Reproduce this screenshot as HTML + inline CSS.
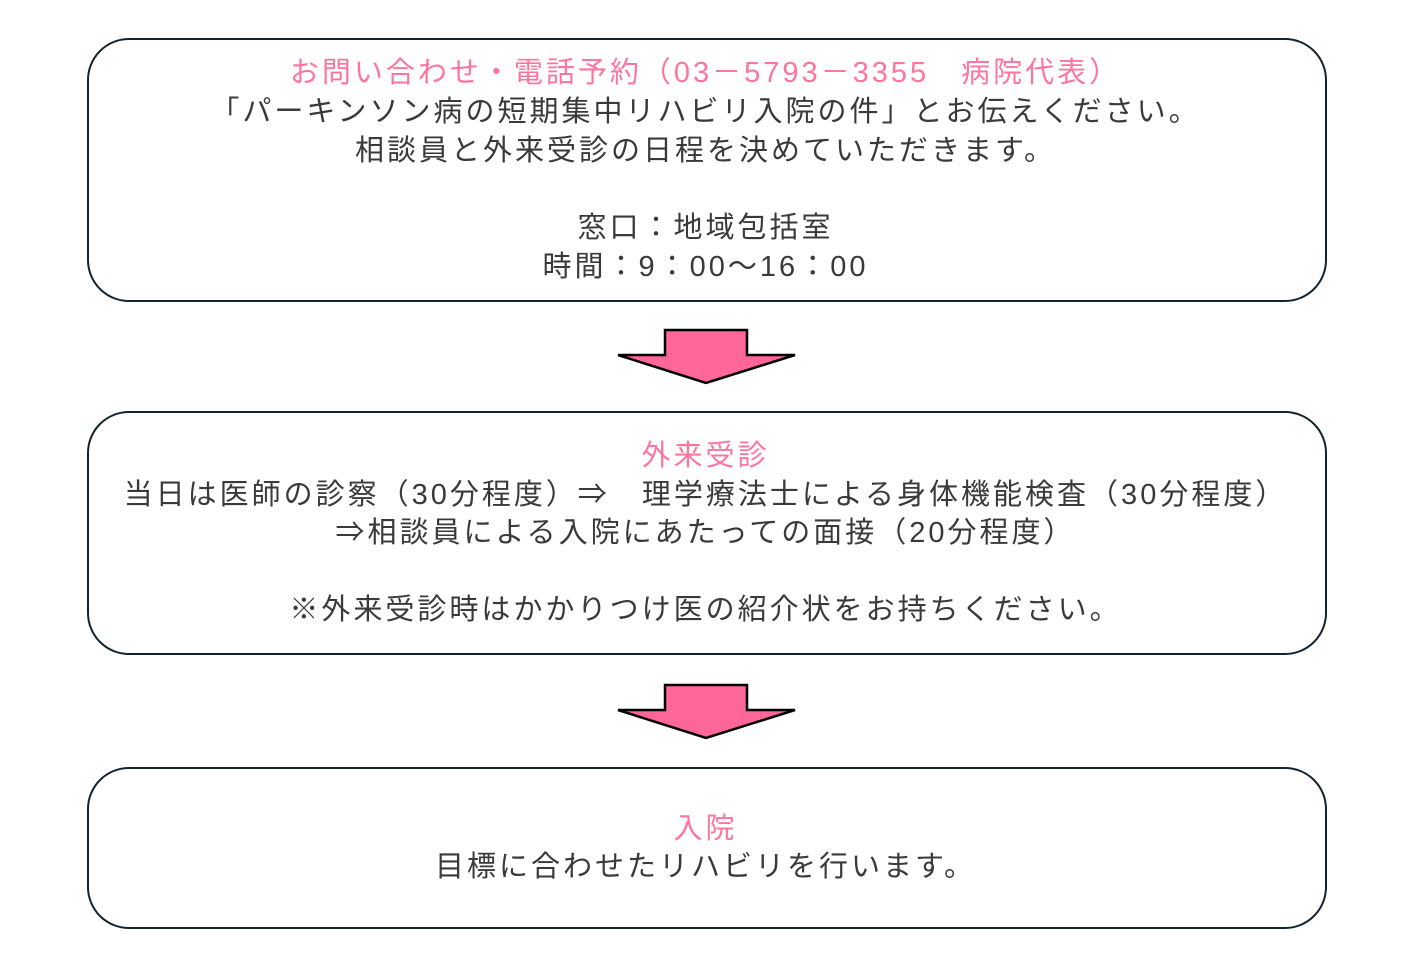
<!DOCTYPE html>
<html><head><meta charset="utf-8"><style>
body{margin:0;width:1408px;height:967px;background:#fff;position:relative;overflow:hidden;font-family:"Liberation Sans","Noto Sans CJK JP",sans-serif;}
.box{position:absolute;left:87px;width:1240px;border:2.5px solid #15232d;border-radius:42px;box-sizing:border-box;}
.t{position:absolute;left:0;width:1408px;text-align:center;font-size:29px;color:#3a3a3a;line-height:38px;white-space:pre;letter-spacing:3px;text-indent:3px;}
.p{color:#ff75a0;}
svg{position:absolute;left:0;top:0;}
</style></head><body>
<div class="box" style="top:38px;height:264px"></div>
<div class="box" style="top:411px;height:244px"></div>
<div class="box" style="top:767px;height:162px"></div>
<svg width="1408" height="967">
<polygon points="665,330 747,330 747,355 795,355 706,383 618,355 665,355" fill="#ff6699" stroke="#000" stroke-width="2.5" stroke-linejoin="miter"/>
<polygon points="665,685 747,685 747,710 795,710 706,738 618,710 665,710" fill="#ff6699" stroke="#000" stroke-width="2.5"/>
</svg>
<div class="t p" style="top:54px">お問い合わせ・電話予約（03－5793－3355　病院代表）</div>
<div class="t" style="top:93px">「パーキンソン病の短期集中リハビリ入院の件」とお伝えください。</div>
<div class="t" style="top:132px">相談員と外来受診の日程を決めていただきます。</div>
<div class="t" style="top:209px">窓口：地域包括室</div>
<div class="t" style="top:248px">時間：9：00〜16：00</div>
<div class="t p" style="top:437px">外来受診</div>
<div class="t" style="top:476px">当日は医師の診察（30分程度）⇒　理学療法士による身体機能検査（30分程度）</div>
<div class="t" style="top:514px">⇒相談員による入院にあたっての面接（20分程度）</div>
<div class="t" style="top:591px">※外来受診時はかかりつけ医の紹介状をお持ちください。</div>
<div class="t p" style="top:810px">入院</div>
<div class="t" style="top:848px">目標に合わせたリハビリを行います。</div>
</body></html>
